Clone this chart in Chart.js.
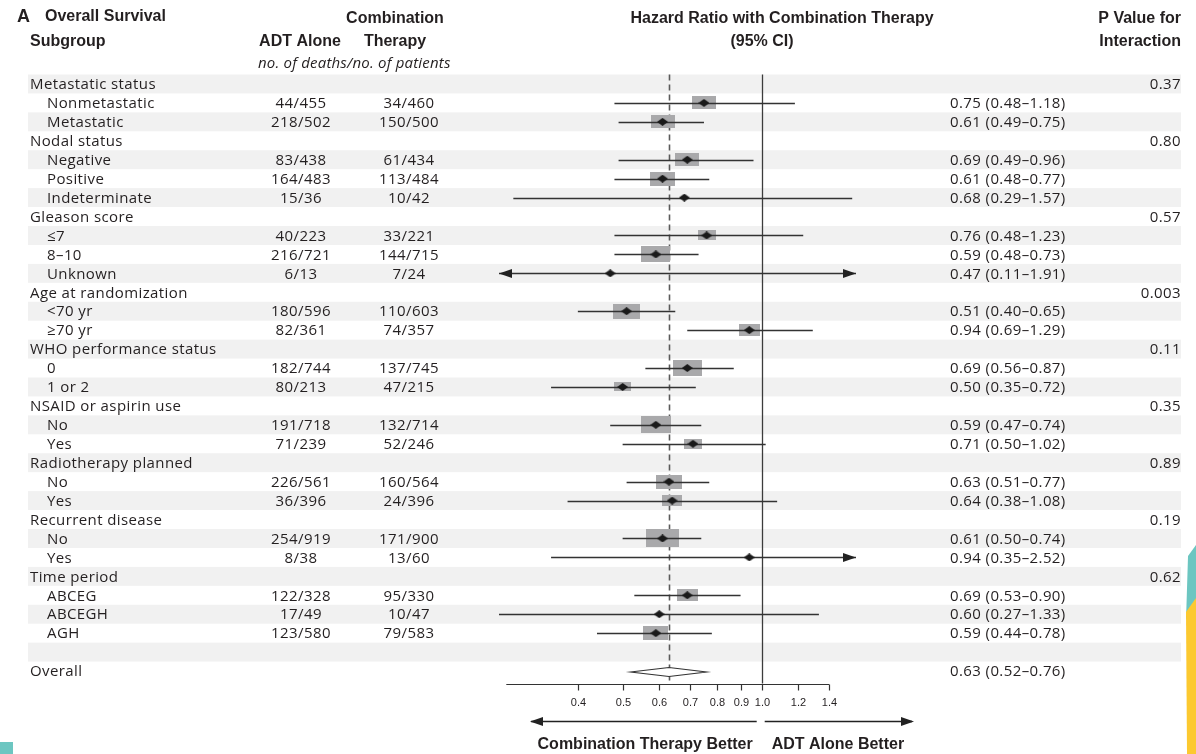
<!DOCTYPE html>
<html lang="en">
  <head>
    <meta charset="UTF-8" />
    <title>Overall Survival Subgroup Analysis</title>
    <script src="https://cdn.jsdelivr.net/npm/chart.js"></script>
    <style>
      body { margin: 0; background: #fff; }
      #forest { display: block; }
    </style>
  </head>
  <body>
    <canvas id="forest" width="1196" height="754"></canvas>
    <script>
      // one entry per table row, top to bottom; null = nothing in that cell
      const subgroups = [
        "Metastatic status", "Nonmetastatic", "Metastatic",
        "Nodal status", "Negative", "Positive", "Indeterminate",
        "Gleason score", "\u22647", "8\u201310", "Unknown",
        "Age at randomization", "<70 yr", "\u226570 yr",
        "WHO performance status", "0", "1 or 2",
        "NSAID or aspirin use", "No", "Yes",
        "Radiotherapy planned", "No", "Yes",
        "Recurrent disease", "No", "Yes",
        "Time period", "ABCEG", "ABCEGH", "AGH",
        "", "Overall"
      ];
      const adtAlone = [
        null, "44/455", "218/502",
        null, "83/438", "164/483", "15/36",
        null, "40/223", "216/721", "6/13",
        null, "180/596", "82/361",
        null, "182/744", "80/213",
        null, "191/718", "71/239",
        null, "226/561", "36/396",
        null, "254/919", "8/38",
        null, "122/328", "17/49", "123/580",
        null, null
      ];
      const combination = [
        null, "34/460", "150/500",
        null, "61/434", "113/484", "10/42",
        null, "33/221", "144/715", "7/24",
        null, "110/603", "74/357",
        null, "137/745", "47/215",
        null, "132/714", "52/246",
        null, "160/564", "24/396",
        null, "171/900", "13/60",
        null, "95/330", "10/47", "79/583",
        null, null
      ];
      const hazardRatio = [
        null, 0.75, 0.61,
        null, 0.69, 0.61, 0.68,
        null, 0.76, 0.59, 0.47,
        null, 0.51, 0.94,
        null, 0.69, 0.50,
        null, 0.59, 0.71,
        null, 0.63, 0.64,
        null, 0.61, 0.94,
        null, 0.69, 0.60, 0.59,
        null, 0.63
      ];
      const ciLower = [
        null, 0.48, 0.49,
        null, 0.49, 0.48, 0.29,
        null, 0.48, 0.48, 0.11,
        null, 0.40, 0.69,
        null, 0.56, 0.35,
        null, 0.47, 0.50,
        null, 0.51, 0.38,
        null, 0.50, 0.35,
        null, 0.53, 0.27, 0.44,
        null, 0.52
      ];
      const ciUpper = [
        null, 1.18, 0.75,
        null, 0.96, 0.77, 1.57,
        null, 1.23, 0.73, 1.91,
        null, 0.65, 1.29,
        null, 0.87, 0.72,
        null, 0.74, 1.02,
        null, 0.77, 1.08,
        null, 0.74, 2.52,
        null, 0.90, 1.33, 0.78,
        null, 0.76
      ];
      // relative weight of each estimate (largest = 1)
      const boxWeight = [
        null, 0.73, 0.73,
        null, 0.73, 0.76, 0,
        null, 0.55, 0.88, 0,
        null, 0.82, 0.64,
        null, 0.88, 0.52,
        null, 0.9, 0.55,
        null, 0.8, 0.62,
        null, 1.0, 0,
        null, 0.64, 0, 0.76,
        null, null
      ];
      const pInteraction = [
        "0.37", null, null,
        "0.80", null, null, null,
        "0.57", null, null, null,
        "0.003", null, null,
        "0.11", null, null,
        "0.35", null, null,
        "0.89", null, null,
        "0.19", null, null,
        "0.62", null, null, null,
        null, null
      ];
      const axisTicks = [0.4, 0.5, 0.6, 0.7, 0.8, 0.9, 1.0, 1.2, 1.4];
      const overallRow = subgroups.length - 1;

      const INK = "#231f20";
      const BODY = '"Open Sans", "Noto Sans", sans-serif';
      const HEAD = '"Liberation Sans Narrow", "Liberation Sans", sans-serif';
      const X_MIN = 0.27, X_MAX = 1.6, AXIS_FROM = 0.28, AXIS_TO = 1.4;

      // small flattened black diamond used as the point marker
      function makeDiamond(w, h) {
        const c = document.createElement("canvas");
        c.width = w; c.height = h;
        const g = c.getContext("2d");
        g.fillStyle = "#1a1a1a";
        g.beginPath();
        g.moveTo(0, h / 2); g.lineTo(w / 2, 0); g.lineTo(w, h / 2); g.lineTo(w / 2, h);
        g.closePath(); g.fill();
        return c;
      }
      const diamond = makeDiamond(11, 8);

      const boxCache = {};
      function weightBox(weight) {
        const w = Math.round(weight * 33);
        if (!boxCache[w]) {
          const h = Math.round(w * 0.55);
          const c = document.createElement("canvas");
          c.width = w; c.height = h;
          const g = c.getContext("2d");
          g.fillStyle = "#a9a9ab";
          g.fillRect(0, 0, w, h);
          boxCache[w] = c;
        }
        return boxCache[w];
      }

      const pointData = [];
      const boxData = [];
      hazardRatio.forEach((v, i) => {
        if (v === null || i === overallRow) return;
        pointData.push({ x: v, y: i });
        if (boxWeight[i] > 0) boxData.push({ x: v, y: i, w: boxWeight[i] });
      });

      function rowBounds(chart, i) {
        const y = chart.scales.y;
        return [y.getPixelForValue(i - 0.5), y.getPixelForValue(i + 0.5)];
      }

      function arrowHead(ctx, tipX, y, dir) {
        ctx.beginPath();
        ctx.moveTo(tipX, y);
        ctx.lineTo(tipX - dir * 13, y - 4.5);
        ctx.lineTo(tipX - dir * 13, y + 4.5);
        ctx.closePath();
        ctx.fill();
      }

      const forestPlugin = {
        id: "forestTable",
        beforeDraw(chart) {
          const ctx = chart.ctx;
          ctx.save();
          ctx.fillStyle = "#f1f1f1";
          subgroups.forEach((s, i) => {
            if (i % 2 !== 0) return;
            const [top, bottom] = rowBounds(chart, i);
            ctx.fillRect(28, top, 1153, bottom - top);
          });
          ctx.restore();
        },
        beforeDatasetsDraw(chart) {
          const ctx = chart.ctx;
          const x = chart.scales.x;
          const top = chart.chartArea.top;
          const axisY = chart.chartArea.bottom + 3;
          ctx.save();
          // no-effect line
          ctx.strokeStyle = "#3c3c3c";
          ctx.lineWidth = 1.3;
          ctx.beginPath();
          ctx.moveTo(Math.round(x.getPixelForValue(1)) + 0.5, top);
          ctx.lineTo(Math.round(x.getPixelForValue(1)) + 0.5, axisY);
          ctx.stroke();
          // overall estimate
          ctx.strokeStyle = "#5a5a5a";
          ctx.lineWidth = 1.6;
          ctx.setLineDash([6, 4]);
          const ox = Math.round(x.getPixelForValue(hazardRatio[overallRow])) + 0.5;
          ctx.beginPath();
          ctx.moveTo(ox, top);
          ctx.lineTo(ox, axisY);
          ctx.stroke();
          ctx.restore();
        },
        afterDatasetDraw(chart, args) {
          if (args.index !== 1) return;
          const ctx = chart.ctx;
          const x = chart.scales.x, y = chart.scales.y;
          ctx.save();
          ctx.strokeStyle = "#333";
          ctx.fillStyle = "#222";
          ctx.lineWidth = 1.3;
          hazardRatio.forEach((v, i) => {
            if (v === null || i === overallRow) return;
            const py = Math.round(y.getPixelForValue(i)) + 0.5;
            const x1 = x.getPixelForValue(Math.max(ciLower[i], X_MIN));
            const x2 = x.getPixelForValue(Math.min(ciUpper[i], X_MAX));
            ctx.beginPath();
            ctx.moveTo(x1, py);
            ctx.lineTo(x2, py);
            ctx.stroke();
            if (ciLower[i] < X_MIN) arrowHead(ctx, x1, py, -1);
            if (ciUpper[i] > X_MAX) arrowHead(ctx, x2, py, 1);
          });
          ctx.restore();
        },
        afterDraw(chart) {
          const ctx = chart.ctx;
          const x = chart.scales.x, y = chart.scales.y;
          const area = chart.chartArea;
          ctx.save();
          ctx.fillStyle = INK;
          ctx.textBaseline = "middle";

          // column headings
          ctx.font = "bold 18px " + HEAD;
          ctx.textAlign = "left";
          ctx.fillText("A", 17, 17);
          ctx.font = "bold 16px " + HEAD;
          ctx.fillText("Overall Survival", 45, 17);
          ctx.fillText("Subgroup", 30, 42);
          ctx.textAlign = "center";
          ctx.fillText("ADT Alone", 300, 42);
          ctx.fillText("Combination", 395, 19);
          ctx.fillText("Therapy", 395, 42);
          ctx.fillText("Hazard Ratio with Combination Therapy", 782, 19);
          ctx.fillText("(95% CI)", 762, 42);
          ctx.textAlign = "right";
          ctx.fillText("P Value for", 1181, 19);
          ctx.fillText("Interaction", 1181, 42);
          ctx.textAlign = "left";
          ctx.font = "italic 15px " + BODY;
          ctx.letterSpacing = "0.2px";
          ctx.fillText("no. of deaths/no. of patients", 258, 64);

          // table body
          ctx.font = "15px " + BODY;
          ctx.letterSpacing = "0.4px";
          subgroups.forEach((label, i) => {
            const py = y.getPixelForValue(i) + 1;
            const indent = hazardRatio[i] !== null && i !== overallRow;
            ctx.textAlign = "left";
            ctx.fillText(label, indent ? 47 : 30, py);
            ctx.textAlign = "center";
            if (adtAlone[i]) ctx.fillText(adtAlone[i], 301, py);
            if (combination[i]) ctx.fillText(combination[i], 409, py);
            if (hazardRatio[i] !== null) {
              ctx.textAlign = "left";
              const txt = hazardRatio[i].toFixed(2) + " (" + ciLower[i].toFixed(2) +
                "\u2013" + ciUpper[i].toFixed(2) + ")";
              ctx.fillText(txt, 950, py);
            }
            if (pInteraction[i]) {
              ctx.textAlign = "right";
              ctx.fillText(pInteraction[i], 1181, py);
            }
          });
          ctx.letterSpacing = "0px";

          // overall estimate as an open diamond
          const oy = y.getPixelForValue(overallRow) + 1;
          const xl = x.getPixelForValue(ciLower[overallRow]);
          const xc = x.getPixelForValue(hazardRatio[overallRow]);
          const xr = x.getPixelForValue(ciUpper[overallRow]);
          ctx.fillStyle = "#fff";
          ctx.strokeStyle = "#333";
          ctx.lineWidth = 1.1;
          ctx.beginPath();
          ctx.moveTo(xl, oy); ctx.lineTo(xc, oy - 4.5); ctx.lineTo(xr, oy); ctx.lineTo(xc, oy + 4.5);
          ctx.closePath();
          ctx.fill(); ctx.stroke();

          // hazard-ratio axis (log scale)
          const axisY = Math.round(area.bottom + 3) + 0.5;
          ctx.strokeStyle = "#333";
          ctx.lineWidth = 1.2;
          ctx.beginPath();
          ctx.moveTo(x.getPixelForValue(AXIS_FROM), axisY);
          ctx.lineTo(x.getPixelForValue(AXIS_TO), axisY);
          ctx.stroke();
          ctx.fillStyle = INK;
          ctx.font = "11px " + HEAD;
          ctx.textAlign = "center";
          axisTicks.forEach((t) => {
            const tx = Math.round(x.getPixelForValue(t)) + 0.5;
            ctx.beginPath();
            ctx.moveTo(tx, axisY);
            ctx.lineTo(tx, axisY + 6);
            ctx.stroke();
            ctx.fillText(t.toFixed(1), tx, axisY + 18);
          });

          // direction arrows
          const ay = axisY + 37;
          const one = x.getPixelForValue(1);
          ctx.strokeStyle = "#222";
          ctx.fillStyle = "#222";
          ctx.lineWidth = 1.3;
          ctx.beginPath();
          ctx.moveTo(one - 5, ay); ctx.lineTo(531, ay);
          ctx.moveTo(one + 3, ay); ctx.lineTo(912, ay);
          ctx.stroke();
          arrowHead(ctx, 530, ay, -1);
          arrowHead(ctx, 914, ay, 1);
          ctx.fillStyle = INK;
          ctx.font = "bold 16px " + HEAD;
          ctx.textAlign = "right";
          ctx.fillText("Combination Therapy Better", one - 9, 745);
          ctx.textAlign = "left";
          ctx.fillText("ADT Alone Better", one + 10, 745);

          // page-edge accents
          ctx.fillStyle = "#6cc6c1";
          ctx.fillRect(0, 742, 13, 12);
          ctx.beginPath();
          ctx.moveTo(1196, 545); ctx.lineTo(1188, 556); ctx.lineTo(1186, 620); ctx.lineTo(1196, 600);
          ctx.closePath(); ctx.fill();
          ctx.fillStyle = "#fcc930";
          ctx.beginPath();
          ctx.moveTo(1196, 598); ctx.lineTo(1186, 612); ctx.lineTo(1187, 754); ctx.lineTo(1196, 754);
          ctx.closePath(); ctx.fill();
          ctx.restore();
        }
      };

      new Chart(document.getElementById("forest"), {
        type: "scatter",
        data: {
          datasets: [
            {
              label: "Hazard ratio",
              data: pointData,
              pointStyle: diamond,
              order: 0
            },
            {
              label: "Weight",
              data: boxData,
              pointStyle: (c) => weightBox(c.raw ? c.raw.w : 0.5),
              order: 2
            }
          ]
        },
        options: {
          responsive: false,
          animation: false,
          events: [],
          layout: {
            padding: { left: 499, right: 340, top: 74.5, bottom: 73.5 }
          },
          plugins: {
            legend: { display: false },
            tooltip: { enabled: false }
          },
          scales: {
            x: { type: "logarithmic", min: X_MIN, max: X_MAX, display: false },
            y: { type: "linear", min: -0.5, max: subgroups.length - 0.5, reverse: true, display: false }
          }
        },
        plugins: [forestPlugin]
      });
    </script>
  </body>
</html>
